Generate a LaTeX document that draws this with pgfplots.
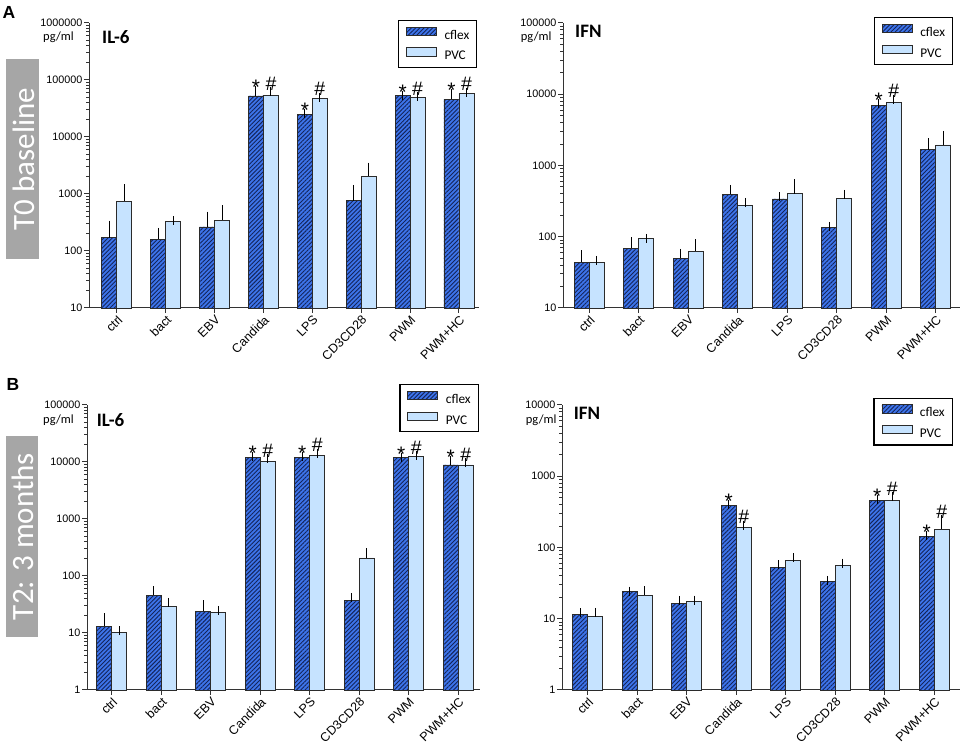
\documentclass[border=0pt]{standalone}
\usepackage{fontspec}
\setmainfont{Liberation Sans}
\newfontfamily\carlito{Carlito}
\usepackage{pgfplots}
\usepackage{pgfplotstable}
\pgfplotsset{compat=1.18}
\usetikzlibrary{patterns.meta}

\definecolor{cflexblue}{HTML}{3D74EA}
\definecolor{hatchnavy}{HTML}{14245A}
\definecolor{pvcblue}{HTML}{C6E3FF}
\definecolor{bardark}{HTML}{2B2B2B}
\definecolor{axisgray}{HTML}{333333}
\definecolor{boxgray}{HTML}{A6A6A6}

% x  cflex  cflex-err  PVC  PVC-err   (errors: upper error above bar top)
\pgfplotstableread{
x c ce p pe
0 171 112 745 495
1 160 53 332 8
2 264 147 345 179
3 52400 12200 54500 7100
4 25200 700 47900 1700
5 760 450 2040 920
6 53000 1500 50300 1000
7 46400 10400 58600 1900
}\ilsixA
\pgfplotstableread{
x c ce p pe
0 43.8 12.2 44 2.7
1 68.8 16.2 94 1
2 50.3 8.2 62.4 17.6
3 394 70 273 31
4 339 26 402 154
5 137 3 346 48
6 6900 400 7700 800
7 1670 420 1940 700
}\ifnA
\pgfplotstableread{
x c ce p pe
0 13.1 5.5 10.3 0.7
1 45.8 8.8 29.4 5.1
2 24 7 23 2
3 12200 300 10300 1000
4 12200 300 13100 1100
5 37.9 3.8 207 50
6 11900 300 12600 300
7 8860 1840 8860 870
}\ilsixB
\pgfplotstableread{
x c ce p pe
0 11.4 0.7 10.8 1.5
1 23.9 0.6 21.2 3.5
2 16.6 1.5 17.3 1.0
3 392 8 189 17
4 53 4 65 6.6
5 33.7 0.8 56.5 3.8
6 451 14 451 68
7 143 3 179 68
}\ifnB

\pgfplotsset{
  /pgfplots/mylegimg/.style={/pgfplots/legend image code/.code={\draw[##1, line width=0.9bp] (0bp,0bp) rectangle (30bp,8.5bp);}},
  /pgfplots/every axis/.append style={
    scale only axis, height=285bp,
    log origin=infty,
    ybar=0pt, bar width=15bp,
    axis lines=left,
    axis line style={-, draw=axisgray, line width=1bp},
    tick align=outside, major tick length=5bp,
    tick style={draw=axisgray, line width=1bp},
    xtick={0,...,7},
    xticklabels={ctrl,bact,EBV,Candida,LPS,CD3CD28,PWM,PWM+HC},
    xticklabel style={rotate=45, anchor=north east, inner sep=1bp, font=\fontsize{12.5bp}{12.5bp}\selectfont},
    yticklabel style={inner sep=1.5bp, font=\fontsize{10.8bp}{10.8bp}\selectfont},
    clip=false,
    legend cell align=left,
    legend style={anchor=north east, draw=black, line width=1.2bp,
      font=\carlito\fontsize{13.3bp}{15bp}\selectfont,
      inner xsep=7.5bp, inner ysep=6bp, row sep=6.5bp, column sep=7.5bp,
      nodes={inner sep=0pt}},
  },
  /pgfplots/cflexbar/.style={fill=cflexblue, draw=bardark, line width=0.9bp,
    postaction={pattern={Lines[angle=45,distance=3bp,line width=0.9bp]}, pattern color=hatchnavy},
    /pgfplots/error bars/y dir=plus, /pgfplots/error bars/y explicit,
    /pgfplots/error bars/error bar style={draw=black, line width=1bp},
    /pgfplots/error bars/error mark options={draw=black, line width=1bp, mark size=4.5bp},
    /pgfplots/mylegimg},
  /pgfplots/pvcbar/.style={fill=pvcblue, draw=bardark, line width=0.9bp,
    /pgfplots/error bars/y dir=plus, /pgfplots/error bars/y explicit,
    /pgfplots/error bars/error bar style={draw=black, line width=1bp},
    /pgfplots/error bars/error mark options={draw=black, line width=1bp, mark size=4.5bp},
    /pgfplots/mylegimg},
}
\tikzset{
  mystar/.style={font=\fontsize{21bp}{21bp}\selectfont, anchor=base, inner sep=0pt, xshift=-7.5bp, yshift=-4bp},
  myhash/.style={font=\fontsize{19.5bp}{19.5bp}\selectfont, anchor=base, inner sep=0pt, xshift=7.5bp, yshift=1.5bp},
}

\begin{document}
\begin{tikzpicture}
\useasboundingbox (0,0) rectangle (962bp,749bp);

% ---------- Panel A left: IL-6 T0 ----------
\begin{axis}[ymode=log, /pgf/number format/assume math mode=true,
  at={(89bp,441bp)}, anchor=south west, width=390bp,
  xmin=-0.57, xmax=7.41, ymin=10, ymax=1000000,
  ytick={10,100,1000,10000,100000,1000000},
  yticklabels={10,100,1000,10000,100000,1000000},
  legend style={at={(0.996,1.0105)}}]
\addplot[cflexbar] table[x=x, y=c, y error=ce] {\ilsixA};
\addplot[pvcbar] table[x=x, y=p, y error=pe] {\ilsixA};
\legend{cflex,PVC}
\node[mystar] at (axis cs:3,64600) {*};
\node[mystar] at (axis cs:4,25900) {*};
\node[mystar] at (axis cs:6,54500) {*};
\node[mystar] at (axis cs:7,56800) {*};
\node[myhash] at (axis cs:3,61600) {\#};
\node[myhash] at (axis cs:4,49600) {\#};
\node[myhash] at (axis cs:6,51300) {\#};
\node[myhash] at (axis cs:7,60500) {\#};
\end{axis}

% ---------- Panel A right: IFN T0 ----------
\begin{axis}[ymode=log, /pgf/number format/assume math mode=true,
  at={(563bp,441bp)}, anchor=south west, width=397bp,
  xmin=-0.53, xmax=7.49, ymin=10, ymax=100000,
  ytick={10,100,1000,10000,100000},
  yticklabels={10,100,1000,10000,100000},
  legend style={at={(0.983,1.02)}}]
\addplot[cflexbar] table[x=x, y=c, y error=ce] {\ifnA};
\addplot[pvcbar] table[x=x, y=p, y error=pe] {\ifnA};
\legend{cflex,PVC}
\node[mystar] at (axis cs:6,7300) {*};
\node[myhash] at (axis cs:6,8500) {\#};
\end{axis}

% ---------- Panel B left: IL-6 T2 ----------
\begin{axis}[ymode=log, /pgf/number format/assume math mode=true,
  at={(87bp,59bp)}, anchor=south west, width=393bp,
  xmin=-0.5, xmax=7.44, ymin=1, ymax=100000,
  ytick={1,10,100,1000,10000,100000},
  yticklabels={1,10,100,1000,10000,100000},
  legend style={at={(0.997,1.073)}}]
\addplot[cflexbar] table[x=x, y=c, y error=ce] {\ilsixB};
\addplot[pvcbar] table[x=x, y=p, y error=pe] {\ilsixB};
\legend{cflex,PVC}
\node[mystar] at (axis cs:3,12500) {*};
\node[mystar] at (axis cs:4,12500) {*};
\node[mystar] at (axis cs:6,12200) {*};
\node[mystar] at (axis cs:7,10700) {*};
\node[myhash] at (axis cs:3,11300) {\#};
\node[myhash] at (axis cs:4,14200) {\#};
\node[myhash] at (axis cs:6,12900) {\#};
\node[myhash] at (axis cs:7,9730) {\#};
\end{axis}

% ---------- Panel B right: IFN T2 ----------
\begin{axis}[ymode=log, /pgf/number format/assume math mode=true,
  at={(562bp,59bp)}, anchor=south west, width=398bp,
  xmin=-0.52, xmax=7.52, ymin=1, ymax=10000,
  ytick={1,10,100,1000,10000},
  yticklabels={1,10,100,1000,10000},
  legend style={at={(0.982,1.026)}}]
\addplot[cflexbar] table[x=x, y=c, y error=ce] {\ifnB};
\addplot[pvcbar] table[x=x, y=p, y error=pe] {\ifnB};
\legend{cflex,PVC}
\node[mystar] at (axis cs:3,400) {*};
\node[mystar] at (axis cs:6,465) {*};
\node[mystar] at (axis cs:7,146) {*};
\node[myhash] at (axis cs:3,206) {\#};
\node[myhash] at (axis cs:6,519) {\#};
\node[myhash] at (axis cs:7,247) {\#};
\end{axis}

% ---------- Labels ----------
\node[anchor=north west, inner sep=0pt, font=\bfseries\fontsize{17.5bp}{17.5bp}\selectfont] at (2.5bp,743bp) {A};
\node[anchor=north west, inner sep=0pt, font=\bfseries\fontsize{17.5bp}{17.5bp}\selectfont] at (6.5bp,371bp) {B};

\fill[boxgray] (6bp,490bp) rectangle (39bp,690bp);
\node[rotate=90, text=white, inner sep=0pt, font=\carlito\fontsize{31bp}{31bp}\selectfont] at (23.5bp,590bp) {T0 baseline};
\fill[boxgray] (6bp,112bp) rectangle (38bp,313bp);
\node[rotate=90, text=white, inner sep=0pt, font=\carlito\fontsize{31bp}{31bp}\selectfont] at (23bp,212.5bp) {T2: 3 months};

\node[anchor=base west, inner sep=0pt, font=\carlito\bfseries\fontsize{19bp}{19bp}\selectfont] at (102bp,705bp) {IL-6};
\node[anchor=base west, inner sep=0pt, font=\carlito\bfseries\fontsize{19bp}{19bp}\selectfont] at (575bp,711.3bp) {IFN};
\node[anchor=base west, inner sep=0pt, font=\carlito\bfseries\fontsize{19bp}{19bp}\selectfont] at (96.7bp,322.3bp) {IL-6};
\node[anchor=base west, inner sep=0pt, font=\carlito\bfseries\fontsize{19bp}{19bp}\selectfont] at (573.7bp,329.7bp) {IFN};

\node[anchor=base west, inner sep=0pt, font=\carlito\fontsize{12.5bp}{12.5bp}\selectfont] at (43bp,708bp) {pg/ml};
\node[anchor=base west, inner sep=0pt, font=\carlito\fontsize{12.5bp}{12.5bp}\selectfont] at (520.7bp,708bp) {pg/ml};
\node[anchor=base west, inner sep=0pt, font=\carlito\fontsize{12.5bp}{12.5bp}\selectfont] at (43bp,325.5bp) {pg/ml};
\node[anchor=base west, inner sep=0pt, font=\carlito\fontsize{12.5bp}{12.5bp}\selectfont] at (525.7bp,325.5bp) {pg/ml};
\end{tikzpicture}
\end{document}
